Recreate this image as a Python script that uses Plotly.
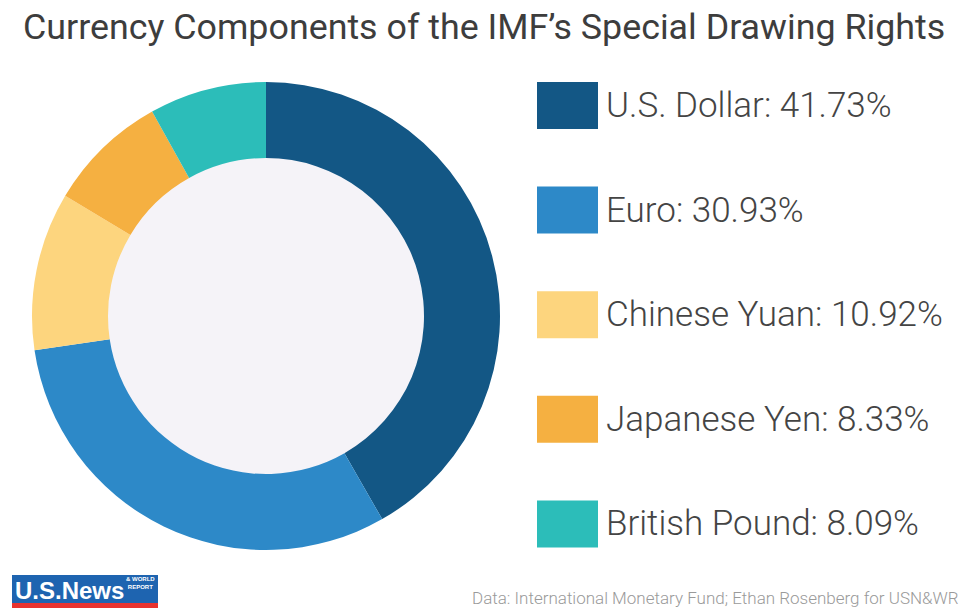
import plotly.graph_objects as go

currencies = ["U.S. Dollar", "Euro", "Chinese Yuan", "Japanese Yen", "British Pound"]
shares = [41.73, 30.93, 10.92, 8.33, 8.09]
colors = ["#135785", "#2D89C8", "#FDD57E", "#F5B041", "#2CBDB9"]

W, H = 970, 615
cx, cy, R, r_in = 266, 316, 234, 158

def px(x):
    return x / W

def py(y):
    return 1 - y / H

fig = go.Figure()
fig.add_trace(go.Pie(
    labels=currencies, values=shares, sort=False, direction="clockwise", rotation=0,
    hole=r_in / R, marker=dict(colors=colors, line=dict(width=0)),
    textinfo="none", hoverinfo="label+percent", showlegend=False,
    domain=dict(x=[px(cx - R), px(cx + R)], y=[py(cy + R), py(cy - R)]),
))

shapes = [
    dict(type="circle", xref="paper", yref="paper", layer="below",
         x0=px(cx - r_in - 1), x1=px(cx + r_in + 1), y0=py(cy + r_in + 1), y1=py(cy - r_in - 1),
         fillcolor="#F5F3F8", line=dict(width=0)),
]
annotations = []
leg_top = 82
step = 104.6
for i, (name, val, col) in enumerate(zip(currencies, shares, colors)):
    y0 = leg_top + i * step
    shapes.append(dict(type="rect", xref="paper", yref="paper",
                       x0=px(537), x1=px(598), y0=py(y0 + 47), y1=py(y0),
                       fillcolor=col, line=dict(width=0)))
    annotations.append(dict(xref="paper", yref="paper", x=px(604), y=py(y0 + 23.5),
                            xanchor="left", yanchor="middle", showarrow=False,
                            text=f"{name}: {val:.2f}%",
                            font=dict(family="Roboto", size=35, color="#444444", weight=300)))

# title
annotations.append(dict(xref="paper", yref="paper", x=px(484), y=py(27), xanchor="center", yanchor="middle",
                        showarrow=False, text="Currency Components of the IMF\u2019s Special Drawing Rights",
                        font=dict(family="Roboto", size=35.8, color="#3d3d3d")))
# source
annotations.append(dict(xref="paper", yref="paper", x=px(961), y=py(598), xanchor="right", yanchor="middle",
                        showarrow=False, text="Data: International Monetary Fund; Ethan Rosenberg for USN&WR",
                        font=dict(family="Roboto", size=17, color="#9a9a9a", weight=300)))
# logo
shapes.append(dict(type="rect", xref="paper", yref="paper", x0=px(12), x1=px(158), y0=py(603), y1=py(575),
                   fillcolor="#1E64B0", line=dict(width=0)))
shapes.append(dict(type="rect", xref="paper", yref="paper", x0=px(12), x1=px(158), y0=py(608), y1=py(603),
                   fillcolor="#E8332F", line=dict(width=0)))
annotations.append(dict(xref="paper", yref="paper", x=px(13), y=py(590), xanchor="left", yanchor="middle",
                        showarrow=False, text="<b>U.S.News</b>",
                        font=dict(family="Liberation Sans Narrow, Liberation Sans", size=24, color="white")))
annotations.append(dict(xref="paper", yref="paper", x=px(157), y=py(583), xanchor="right", yanchor="middle",
                        showarrow=False, text="<b>& WORLD<br>REPORT</b>",
                        font=dict(family="Liberation Sans", size=6, color="white")))

fig.update_layout(width=W, height=H, margin=dict(l=0, r=0, t=0, b=0),
                  paper_bgcolor="white", plot_bgcolor="white",
                  shapes=shapes, annotations=annotations)
fig.write_html("out.html", config={"displayModeBar": False})
